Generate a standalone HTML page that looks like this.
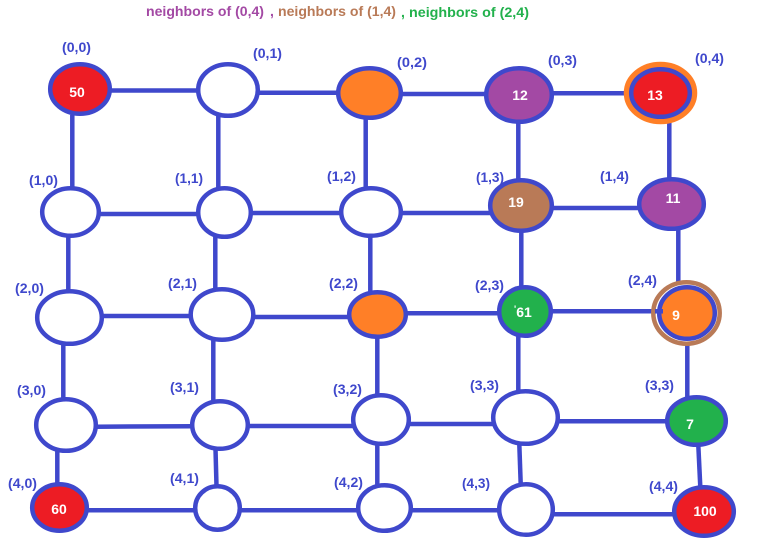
<!DOCTYPE html>
<html>
<head>
<meta charset="utf-8">
<style>
html,body{margin:0;padding:0;background:#fff;width:759px;height:542px;overflow:hidden}
svg{display:block}
text{font-family:"Liberation Sans",sans-serif;font-weight:bold}
.l{font-size:14px;fill:#3f48cc}
.v{font-size:14px;fill:#fff;text-anchor:middle}
.t{font-size:14px}
.e line{stroke:#3f48cc;stroke-width:4.5}
.n ellipse{stroke:#3f48cc;stroke-width:4.5;fill:#fff}
</style>
</head>
<body>
<svg width="759" height="542" viewBox="0 0 759 542" xmlns="http://www.w3.org/2000/svg">
<rect width="759" height="542" fill="#fff"/>

<text class="t" x="146" y="16" fill="#a349a4" textLength="118" lengthAdjust="spacingAndGlyphs">neighbors of (0,4)</text>
<text class="t" x="270" y="16" fill="#a349a4">,</text>
<text class="t" x="278" y="16" fill="#b97a57" textLength="118" lengthAdjust="spacingAndGlyphs">neighbors of (1,4)</text>
<text class="t" x="401" y="17" fill="#22b14c">,</text>
<text class="t" x="409" y="17" fill="#22b14c" textLength="120" lengthAdjust="spacingAndGlyphs">neighbors of (2,4)</text>

<g class="e">
<line x1="110" y1="90.5" x2="198" y2="90.5"/>
<line x1="258" y1="92.7" x2="338" y2="92.7"/>
<line x1="401" y1="94" x2="486" y2="94"/>
<line x1="552" y1="93.3" x2="631" y2="93.3"/>
<line x1="99" y1="214" x2="198" y2="214"/>
<line x1="251" y1="213" x2="341" y2="213"/>
<line x1="401" y1="213" x2="492" y2="213"/>
<line x1="552" y1="208" x2="639" y2="208"/>
<line x1="102" y1="316" x2="191" y2="316"/>
<line x1="254" y1="317" x2="349" y2="317"/>
<line x1="406" y1="313.3" x2="499" y2="313.3"/>
<line x1="551" y1="311.3" x2="660" y2="311.3"/>
<line x1="96" y1="426.7" x2="192" y2="426.2"/>
<line x1="248" y1="426" x2="358" y2="426"/>
<line x1="409" y1="424" x2="493" y2="424"/>
<line x1="558" y1="421.3" x2="667" y2="421.3"/>
<line x1="87" y1="510.3" x2="195" y2="510.3"/>
<line x1="240" y1="510.3" x2="358" y2="510.3"/>
<line x1="411" y1="510.3" x2="499" y2="510.3"/>
<line x1="553" y1="514.3" x2="674" y2="514.3"/>
<line x1="72.3" y1="115" x2="72.3" y2="188"/>
<line x1="68.3" y1="236" x2="68.3" y2="291"/>
<line x1="63.3" y1="344" x2="63.3" y2="399"/>
<line x1="57.3" y1="451" x2="57.3" y2="484"/>
<line x1="218.3" y1="116" x2="218.3" y2="188"/>
<line x1="215.3" y1="237" x2="215.3" y2="289"/>
<line x1="213.3" y1="340" x2="213.3" y2="401"/>
<line x1="215.5" y1="449" x2="216.5" y2="486"/>
<line x1="365.7" y1="118" x2="365.7" y2="189"/>
<line x1="370.3" y1="236" x2="370.3" y2="292"/>
<line x1="377.3" y1="337" x2="377.3" y2="395"/>
<line x1="377.3" y1="444" x2="377.3" y2="485"/>
<line x1="518.3" y1="122" x2="518.3" y2="180"/>
<line x1="521.3" y1="231" x2="521.3" y2="287"/>
<line x1="518.3" y1="336" x2="518.3" y2="391"/>
<line x1="519.3" y1="444" x2="520.7" y2="484"/>
<line x1="669.3" y1="122" x2="669.3" y2="179"/>
<line x1="678.3" y1="229" x2="678.3" y2="287"/>
<line x1="687.3" y1="344" x2="687.3" y2="397"/>
<line x1="698.3" y1="445" x2="700.3" y2="487"/>
</g>

<ellipse cx="660.5" cy="93" rx="34.5" ry="29" fill="#ff7f27" stroke="#ff7f27" stroke-width="4.5"/>
<ellipse cx="686.5" cy="313" rx="33.2" ry="30.7" fill="#fff" stroke="#b97a57" stroke-width="4.5"/>

<g class="n">
<ellipse cx="80" cy="89" rx="29.8" ry="24.8" style="fill:#ed1c24"/>
<ellipse cx="228" cy="90" rx="29.8" ry="25.8"/>
<ellipse cx="369.5" cy="93" rx="31.3" ry="24.8" style="fill:#ff7f27"/>
<ellipse cx="519" cy="95" rx="32.8" ry="26.8" style="fill:#a349a4"/>
<ellipse cx="660.5" cy="93" rx="29.3" ry="23.8" style="fill:#ed1c24"/>
<ellipse cx="70.5" cy="212" rx="28.3" ry="23.8"/>
<ellipse cx="224.5" cy="212.5" rx="26.3" ry="24.3"/>
<ellipse cx="371" cy="212" rx="29.8" ry="23.8"/>
<ellipse cx="521" cy="205.5" rx="30.8" ry="25.3" style="fill:#b97a57"/>
<ellipse cx="671.5" cy="204" rx="32.3" ry="24.8" style="fill:#a349a4"/>
<ellipse cx="69.5" cy="317.5" rx="32.3" ry="26.3"/>
<ellipse cx="222" cy="314.5" rx="31.3" ry="25.3"/>
<ellipse cx="377.5" cy="314.5" rx="28.3" ry="22.3" style="fill:#ff7f27"/>
<ellipse cx="525" cy="311.5" rx="25.8" ry="24.3" style="fill:#22b14c"/>
<ellipse cx="687" cy="313" rx="27.8" ry="25.8" style="fill:#ff7f27"/>
<ellipse cx="66" cy="425" rx="29.8" ry="25.8"/>
<ellipse cx="220" cy="425" rx="27.8" ry="23.8"/>
<ellipse cx="381" cy="419.5" rx="27.8" ry="24.3"/>
<ellipse cx="525.5" cy="417.5" rx="32.3" ry="26.3"/>
<ellipse cx="696.5" cy="421" rx="29.3" ry="23.8" style="fill:#22b14c"/>
<ellipse cx="59.5" cy="507.5" rx="27.3" ry="23.3" style="fill:#ed1c24"/>
<ellipse cx="217.5" cy="508" rx="22.3" ry="21.8"/>
<ellipse cx="384.5" cy="508" rx="26.3" ry="22.8"/>
<ellipse cx="526" cy="509.5" rx="26.8" ry="25.3"/>
<ellipse cx="704" cy="511.5" rx="29.8" ry="24.3" style="fill:#ed1c24"/>
</g>
<line x1="655" y1="311.3" x2="663" y2="311.3" stroke="#3f48cc" stroke-width="4.5"/>

<text class="v" x="77" y="97">50</text>
<text class="v" x="520" y="100">12</text>
<text class="v" x="655" y="100">13</text>
<text class="v" x="516" y="207">19</text>
<text class="v" x="673" y="203">11</text>
<text class="v" x="524" y="317">61</text>
<text x="514" y="312" style="font-size:9px;fill:#fff">'</text>
<text class="v" x="676" y="320">9</text>
<text class="v" x="690" y="429">7</text>
<text class="v" x="59" y="514">60</text>
<text class="v" x="705" y="516">100</text>

<text class="l" x="62" y="52" textLength="29" lengthAdjust="spacingAndGlyphs">(0,0)</text>
<text class="l" x="253" y="58" textLength="29" lengthAdjust="spacingAndGlyphs">(0,1)</text>
<text class="l" x="397" y="67" textLength="30" lengthAdjust="spacingAndGlyphs">(0,2)</text>
<text class="l" x="548" y="65" textLength="29" lengthAdjust="spacingAndGlyphs">(0,3)</text>
<text class="l" x="695" y="63" textLength="29" lengthAdjust="spacingAndGlyphs">(0,4)</text>
<text class="l" x="29" y="185" textLength="29" lengthAdjust="spacingAndGlyphs">(1,0)</text>
<text class="l" x="175" y="183" textLength="28" lengthAdjust="spacingAndGlyphs">(1,1)</text>
<text class="l" x="327" y="181" textLength="29" lengthAdjust="spacingAndGlyphs">(1,2)</text>
<text class="l" x="476" y="182" textLength="28" lengthAdjust="spacingAndGlyphs">(1,3)</text>
<text class="l" x="600" y="181" textLength="29" lengthAdjust="spacingAndGlyphs">(1,4)</text>
<text class="l" x="15" y="293" textLength="29" lengthAdjust="spacingAndGlyphs">(2,0)</text>
<text class="l" x="168" y="288" textLength="29" lengthAdjust="spacingAndGlyphs">(2,1)</text>
<text class="l" x="329" y="288" textLength="29" lengthAdjust="spacingAndGlyphs">(2,2)</text>
<text class="l" x="475" y="290" textLength="29" lengthAdjust="spacingAndGlyphs">(2,3)</text>
<text class="l" x="628" y="285" textLength="29" lengthAdjust="spacingAndGlyphs">(2,4)</text>
<text class="l" x="17" y="395" textLength="29" lengthAdjust="spacingAndGlyphs">(3,0)</text>
<text class="l" x="170" y="392" textLength="29" lengthAdjust="spacingAndGlyphs">(3,1)</text>
<text class="l" x="333" y="394" textLength="29" lengthAdjust="spacingAndGlyphs">(3,2)</text>
<text class="l" x="470" y="390" textLength="29" lengthAdjust="spacingAndGlyphs">(3,3)</text>
<text class="l" x="645" y="390" textLength="29" lengthAdjust="spacingAndGlyphs">(3,3)</text>
<text class="l" x="8" y="488" textLength="29" lengthAdjust="spacingAndGlyphs">(4,0)</text>
<text class="l" x="170" y="483" textLength="29" lengthAdjust="spacingAndGlyphs">(4,1)</text>
<text class="l" x="334" y="487" textLength="29" lengthAdjust="spacingAndGlyphs">(4,2)</text>
<text class="l" x="462" y="488" textLength="28" lengthAdjust="spacingAndGlyphs">(4,3)</text>
<text class="l" x="649" y="491" textLength="29" lengthAdjust="spacingAndGlyphs">(4,4)</text>
</svg>
</body>
</html>
